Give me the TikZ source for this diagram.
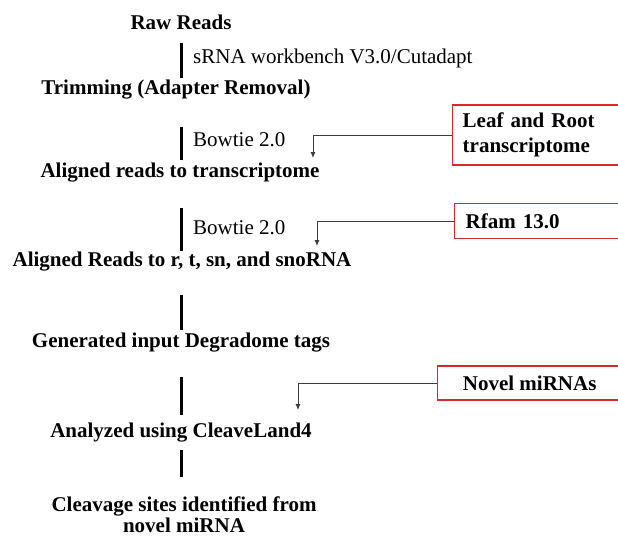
\documentclass[tikz,border=0pt]{standalone}
\usepackage{fontspec}
\setmainfont{Liberation Serif}
\usetikzlibrary{arrows.meta}
\definecolor{boxred}{RGB}{214,40,46}
\definecolor{feedgray}{RGB}{60,60,60}

\begin{document}
\begin{tikzpicture}[x=1pt,y=-1pt,
    stage/.style={font=\fontsize{21}{21}\selectfont\bfseries, align=center, inner sep=0pt},
    tool/.style={font=\fontsize{21}{24}\selectfont, anchor=west, inner sep=0pt},
    source/.style={draw=boxred, line width=1.4pt, anchor=west,
        font=\fontsize{21}{25}\selectfont\bfseries},
    bar/.style={line width=3pt},
    feed/.style={draw=feedgray, line width=0.9pt, -{Latex[length=6pt,width=5pt]}}]
				\clip (0,0) rectangle (618,536);
				% pipeline stages
				\node[stage] (raw) at (181,22) {Raw Reads};
				\node[stage] (trim) at (176,90) {Trimming (Adapter Removal)};
				\node[stage] (trans) at (180,173) {Aligned reads to transcriptome};
				\node[stage] (rrna) at (182,262) {Aligned Reads to r, t, sn, and snoRNA};
				\node[stage] (degr) at (181,343) {Generated input Degradome tags};
				\node[stage] (cleave) at (181,433) {Analyzed using CleaveLand4};
				\node[stage] (sites) at (184,515) {Cleavage sites identified from\\novel miRNA};
				% tools
				\node[tool] (wbench) at (193,58) {sRNA workbench V3.0/Cutadapt};
				\node[tool] (bowtiea) at (193,140) {Bowtie 2.0};
				\node[tool] (bowtieb) at (193,228) {Bowtie 2.0};
				\foreach \a/\b in {43/78, 127/160, 208/251, 295/330, 377/415, 450/477}
					\draw[bar] (181,\a) -- (181,\b);
				% inputs
				\node[source, minimum height=60pt, text width=149pt, inner xsep=10pt, align=left] (leaf) at (452,135) {Leaf and Root\\transcriptome};
				\node[source, minimum height=35pt, text width=145pt, inner xsep=11pt, align=left] (rfam) at (454,221) {Rfam 13.0};
				\node[source, minimum height=34pt, minimum width=184pt, align=center] (novel) at (437,383) {Novel miRNAs};
				\coordinate (tipa) at (313,158);
				\coordinate (tipb) at (317,246);
				\coordinate (tipc) at (298,410);
				\draw[feed] (leaf.west) -| (tipa);
				\draw[feed] (rfam.west) -| (tipb);
				\draw[feed] (novel.west) -| (tipc);
\end{tikzpicture}
\end{document}
